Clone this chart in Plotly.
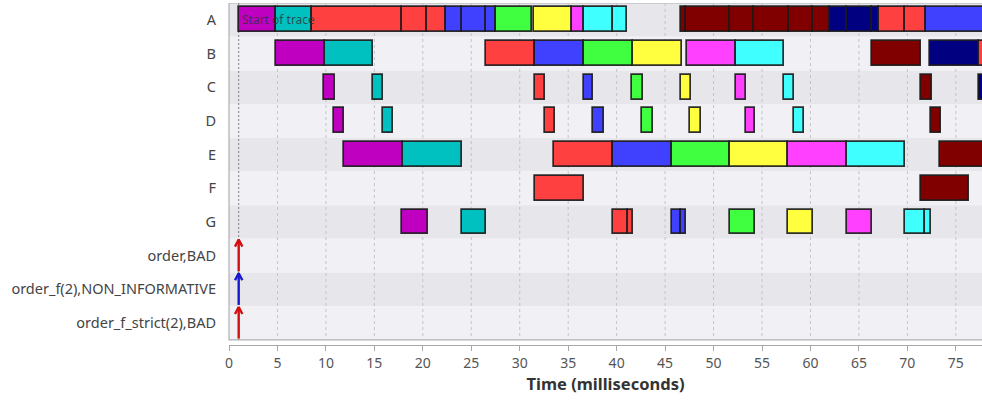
import plotly.graph_objects as go

# Row labels, top to bottom
rows = ["A", "B", "C", "D", "E", "F", "G",
        "order,BAD", "order_f(2),NON_INFORMATIVE", "order_f_strict(2),BAD"]

# Palette keys used by the segments
palette = {
    "M": "#C000C0", "T": "#00C0C0", "R": "#FF4040", "Bl": "#4040FF",
    "G": "#40FF40", "Y": "#FFFF40", "P": "#FF40FF", "C": "#40FFFF",
    "D": "#800000", "N": "#000080",
}

# Segment start / end times (ms) and colour keys per row
A_start = [1.0, 4.9, 8.6, 17.9, 20.4, 22.4, 24.0, 26.5, 27.6, 31.5, 35.4, 36.6, 39.6,
           46.6, 47.2, 51.7, 54.2, 57.8, 60.3, 62.0, 63.8, 66.3, 67.1, 69.8, 71.9]
A_end = [4.9, 8.6, 17.9, 20.4, 22.4, 24.0, 26.5, 27.6, 31.3, 35.4, 36.6, 39.6, 41.1,
         47.2, 51.7, 54.2, 57.8, 60.3, 62.0, 63.8, 66.3, 67.1, 69.8, 71.9, 80.0]
A_color = ["M", "T", "R", "R", "R", "Bl", "Bl", "Bl", "G", "Y", "P", "C", "C",
           "D", "D", "D", "D", "D", "D", "N", "N", "N", "R", "R", "Bl"]

B_start = [4.8, 9.9, 26.5, 31.6, 36.6, 41.7, 47.3, 52.3, 66.3, 72.3, 77.4]
B_end = [9.9, 14.9, 31.6, 36.6, 41.7, 46.7, 52.3, 57.3, 71.4, 77.4, 82.0]
B_color = ["M", "T", "R", "Bl", "G", "Y", "P", "C", "D", "N", "R"]

C_start = [9.85, 14.9, 31.55, 36.6, 41.6, 46.6, 52.3, 57.25, 71.4, 77.4]
C_end = [10.9, 15.9, 32.6, 37.6, 42.7, 47.7, 53.3, 58.3, 72.5, 78.5]
C_color = ["M", "T", "R", "Bl", "G", "Y", "P", "C", "D", "N"]

D_start = [10.8, 15.9, 32.6, 37.6, 42.6, 47.6, 53.3, 58.3, 72.4]
D_end = [11.9, 16.9, 33.6, 38.7, 43.7, 48.7, 54.3, 59.3, 73.5]
D_color = ["M", "T", "R", "Bl", "G", "Y", "P", "C", "D"]

E_start = [11.9, 17.95, 33.5, 39.6, 45.7, 51.7, 57.7, 63.8, 73.4]
E_end = [17.95, 24.0, 39.6, 45.7, 51.7, 57.7, 63.8, 69.8, 80.0]
E_color = ["M", "T", "R", "Bl", "G", "Y", "P", "C", "D"]

F_start = [31.55, 71.4]
F_end = [36.6, 76.4]
F_color = ["R", "D"]

G_start = [17.9, 24.0, 39.6, 41.2, 45.7, 46.6, 51.7, 57.7, 63.8, 69.8, 71.8]
G_end = [20.5, 26.5, 41.2, 41.7, 46.6, 47.2, 54.25, 60.3, 66.3, 71.8, 72.4]
G_color = ["M", "T", "R", "R", "Bl", "Bl", "G", "Y", "P", "C", "C"]

# Point events (time in ms) shown as arrows on their own rows
event_rows = ["order,BAD", "order_f(2),NON_INFORMATIVE", "order_f_strict(2),BAD"]
event_times = [1.0, 1.0, 1.0]
event_colors = ["#D01010", "#1818D0", "#D01010"]

trace_start = 1.0
x_max = 77.7
tick_vals = list(range(0, 80, 5))

segments = [
    ("A", A_start, A_end, A_color), ("B", B_start, B_end, B_color),
    ("C", C_start, C_end, C_color), ("D", D_start, D_end, D_color),
    ("E", E_start, E_end, E_color), ("F", F_start, F_end, F_color),
    ("G", G_start, G_end, G_color),
]

fig = go.Figure()
row_idx = {r: i for i, r in enumerate(rows)}

for name, starts, ends, cols in segments:
    fig.add_trace(go.Bar(
        orientation="h",
        y=[row_idx[name]] * len(starts),
        base=starts,
        x=[e - s for s, e in zip(starts, ends)],
        width=0.74,
        marker=dict(color=[palette[c] for c in cols],
                    line=dict(color="rgba(25,25,25,0.9)", width=1.7)),
        showlegend=False, hoverinfo="skip",
    ))

# Event arrows: shaft plus chevron head
for name, t, col in zip(event_rows, event_times, event_colors):
    y = row_idx[name]
    fig.add_trace(go.Scatter(
        x=[t, t, None, t - 0.38, t, t + 0.38],
        y=[y + 0.46, y - 0.48, None, y - 0.27, y - 0.48, y - 0.27],
        mode="lines", line=dict(color=col, width=2.4),
        showlegend=False, hoverinfo="skip",
    ))

shapes = []
# Alternating row bands
for i in range(len(rows)):
    shapes.append(dict(type="rect", xref="paper", yref="y", x0=0, x1=1,
                       y0=i - 0.5, y1=i + 0.5, layer="below", line_width=0,
                       fillcolor="#E7E7EB" if i % 2 == 0 else "#F1F1F5"))
# Vertical grid lines
for v in tick_vals[1:]:
    shapes.append(dict(type="line", xref="x", yref="y", x0=v, x1=v,
                       y0=-0.5, y1=len(rows) - 0.5, layer="below",
                       line=dict(color="#C4C4C8", width=1, dash="3px,3px")))
# Start-of-trace marker line
shapes.append(dict(type="line", xref="x", yref="y", x0=trace_start, x1=trace_start,
                   y0=-0.5, y1=len(rows) - 0.5, layer="below",
                   line=dict(color="#808080", width=1, dash="2px,2px")))
# Frame around the rows
shapes.append(dict(type="rect", xref="paper", yref="y", x0=0, x1=1.01,
                   y0=-0.5, y1=len(rows) - 0.5, layer="below",
                   line=dict(color="#B0B0B4", width=1.2)))

fig.update_layout(
    width=982, height=400,
    margin=dict(l=229, r=0, t=3, b=55),
    paper_bgcolor="white", plot_bgcolor="white",
    barmode="overlay", bargap=0,
    shapes=shapes,
    font=dict(family="Noto Sans", size=14, color="#444444"),
    annotations=[dict(x=trace_start + 0.15, y=0, xref="x", yref="y",
                      text="Start of trace", showarrow=False, xanchor="left",
                      font=dict(size=12, color="rgba(50,50,50,0.8)"))],
)
fig.update_xaxes(
    range=[0, x_max], tickvals=tick_vals, showgrid=False, zeroline=False,
    showline=True, linecolor="#A8A8A8", linewidth=1,
    ticks="outside", ticklen=5, tickcolor="#A8A8A8",
    tickfont=dict(size=14, color="#555555"),
    title=dict(text="<b>Time (milliseconds)</b>", standoff=6,
               font=dict(size=16.5, color="#333333")),
)
fig.update_yaxes(
    range=[len(rows) - 0.5 + 0.15, -0.5],
    tickvals=list(range(len(rows))), ticktext=rows,
    showgrid=False, zeroline=False, showline=False, ticks="",
    ticklabelstandoff=12,
    tickfont=dict(size=14.5, color="#444444"),
)

fig.write_html("out.html")
